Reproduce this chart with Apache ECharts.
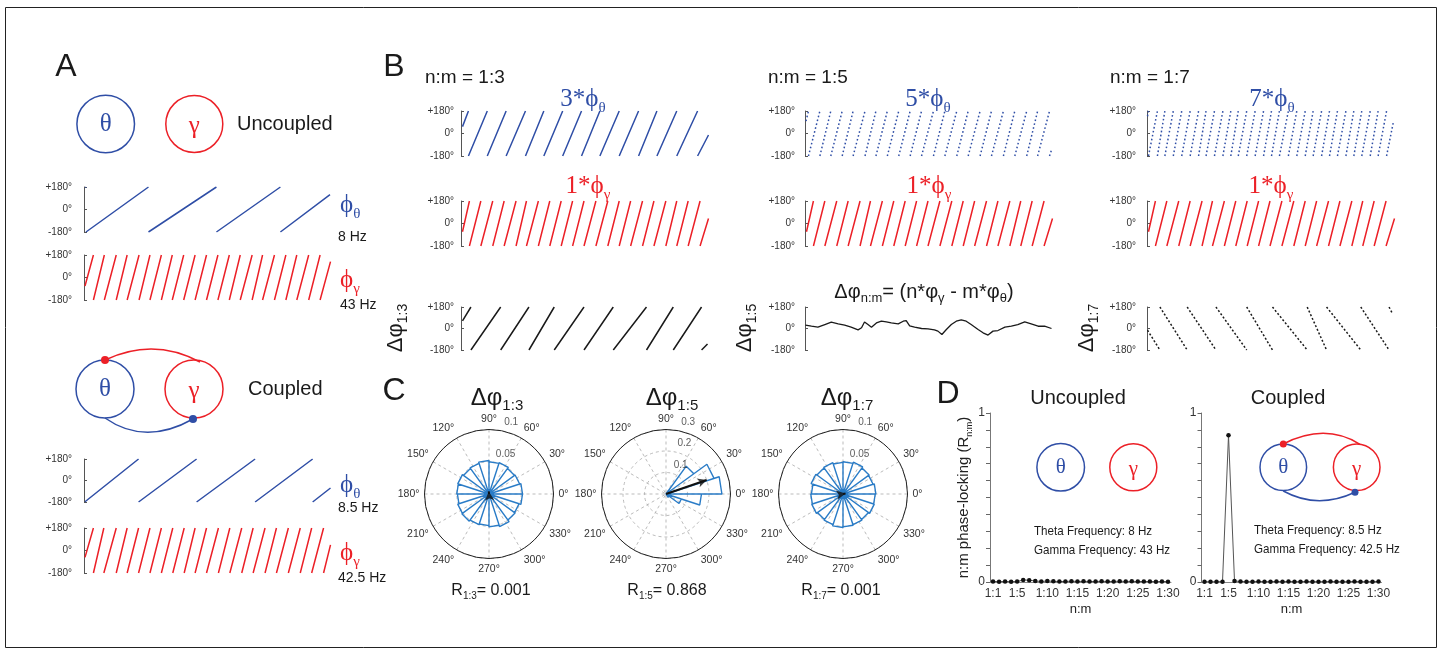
<!DOCTYPE html>
<html>
<head>
<meta charset="utf-8">
<script src="https://cdn.jsdelivr.net/npm/echarts@6/dist/echarts.min.js"></script>
<style>
  html, body { margin: 0; padding: 0; background: #fff; }
  #chart { width: 1443px; height: 656px; }
</style>
</head>
<body>
<div id="chart"></div>
<script>
// ---- data (time in ms, phase in degrees) ----
// phase traces: first and last sample, then the times where the phase wraps
const thetaUncEnds = [[3, 175], [496, 119]];
const thetaUncWraps = [4, 130, 267, 396];
const gammaUncEnds = [[2, -68], [497, 127]];
const gammaUncWraps = [19, 41, 65, 87, 111, 133, 156, 178, 201, 224, 247, 270, 293, 315, 339, 360, 384, 407, 429, 453, 476];
const thetaCplEnds = [[2, -178], [497, -63]];
const thetaCplWraps = [110, 227, 345, 461];
const gammaCplEnds = [[2, -55], [497, 45]];
const gammaCplWraps = [19, 40, 65, 87, 110, 133, 156, 179, 202, 224, 247, 271, 294, 318, 341, 365, 388, 412, 436, 459, 483];

const theta3Ends = [[3, 55], [499, -12]];
const theta3Wraps = [15, 53, 91, 130, 167, 205, 243, 280, 319, 358, 395, 435, 477];
const theta5Ends = [[2, 99], [497, -131]];
const theta5Wraps = [7, 30, 52, 75, 97, 121, 143, 166, 189, 212, 235, 259, 282, 306, 329, 353, 376, 400, 423, 447, 469, 493];
const theta7Ends = [[1, 138], [497, 97]];
const theta7Wraps = [3, 21, 36, 53, 70, 87, 104, 119, 136, 153, 169, 184, 201, 218, 235, 251, 267, 285, 302, 319, 335, 352, 368, 384, 401, 417, 433, 450, 466, 483];
const gammaBEnds = [[3, -66], [499, 40]];
const gammaBWraps = [17, 40, 64, 87, 111, 132, 156, 179, 202, 225, 248, 272, 296, 319, 342, 366, 389, 413, 435, 458, 482];

const dphi13Ends = [[3, 64], [497, -130]];
const dphi13Wraps = [20, 80, 137, 188, 248, 307, 374, 428, 485];
const dphi17Ends = [[1, -14], [495, 124]];
const dphi17Wraps = [26, 81, 139, 201, 253, 323, 362, 431, 488];
const dphi15 = [
  [1, 28], [13, 19], [26, 11], [40, 33], [53, 53], [67, 39], [80, 28], [93, 11], [107, -11], [114, 6],
  [120, 55], [127, 33], [134, 11], [144, 47], [154, 61], [164, 55], [174, 47], [188, 39], [198, 61], [204, 66],
  [211, 22], [221, 11], [235, 0], [248, -3], [261, -11], [268, -22], [276, -50], [285, -8], [295, 33], [305, 61],
  [315, 72], [325, 61], [335, 33], [349, -8], [359, -36], [369, -55], [379, -22], [389, -17], [403, 11], [416, 19],
  [429, 33], [443, 55], [456, 39], [470, 19], [483, 19], [497, 0]
];
const phaseTicks = [-180, 0, 180];

// panel C: rose histograms, 20 bins of 18 deg starting at 0 deg
const rose13 = [0.052, 0.050, 0.049, 0.051, 0.050, 0.052, 0.050, 0.049, 0.051, 0.050, 0.049, 0.051, 0.052, 0.050, 0.049, 0.051, 0.053, 0.050, 0.049, 0.052];
const rose15 = [0.26, 0.235, 0.16, 0.02, 0.006, 0.004, 0.003, 0.003, 0.002, 0.002, 0.002, 0.002, 0.003, 0.003, 0.004, 0.005, 0.008, 0.02, 0.075, 0.165];
const rose17 = [0.051, 0.049, 0.050, 0.052, 0.050, 0.049, 0.051, 0.050, 0.052, 0.049, 0.050, 0.051, 0.049, 0.050, 0.052, 0.051, 0.050, 0.049, 0.051, 0.050];
const meanVec13 = [0.004, 95];
const meanVec15 = [0.2, 19];
const meanVec17 = [0.004, 10];
const Rvalues = ['0.001', '0.868', '0.001'];

// panel D
const nmCategories = ['1:1', '1:2', '1:3', '1:4', '1:5', '1:6', '1:7', '1:8', '1:9', '1:10',
  '1:11', '1:12', '1:13', '1:14', '1:15', '1:16', '1:17', '1:18', '1:19', '1:20',
  '1:21', '1:22', '1:23', '1:24', '1:25', '1:26', '1:27', '1:28', '1:29', '1:30'];
const nmTickLabels = ['1:1', '1:5', '1:10', '1:15', '1:20', '1:25', '1:30'];
const rUncoupled = [0.003, 0.002, 0.003, 0.002, 0.003, 0.012, 0.011, 0.006, 0.003, 0.006,
  0.004, 0.003, 0.003, 0.005, 0.003, 0.004, 0.003, 0.003, 0.004, 0.003,
  0.003, 0.005, 0.003, 0.004, 0.003, 0.003, 0.003, 0.002, 0.003, 0.002];
const rCoupled = [0.002, 0.001, 0.002, 0.002, 0.868, 0.006, 0.003, 0.002, 0.002, 0.003,
  0.002, 0.002, 0.003, 0.002, 0.003, 0.002, 0.002, 0.003, 0.002, 0.002,
  0.002, 0.003, 0.002, 0.002, 0.002, 0.003, 0.002, 0.002, 0.002, 0.003];

// ---- styling ----
const BLUE = '#2f4ea6', RED = '#ec2027', ROSE = '#2a7cc7', INK = '#1a1a1a';
const SANS = '"Liberation Sans", Arial, sans-serif';
const SERIF = '"Liberation Serif", "DejaVu Serif", serif';

// ramps between wraps; dir 1 rises to +180, dir -1 falls to -180
function sawtooth(ends, wraps, dir) {
  const edge = dir > 0 ? 180 : -180;
  const pts = [ends[0]];
  wraps.forEach(w => pts.push([w, edge], [w, '-'], [w, -edge]));
  pts.push(ends[1]);
  return pts;
}

function roseOutline(vals) {
  const pts = [];
  vals.forEach((r, i) => {
    pts.push([0, i * 18], [r, i * 18], [r, i * 18 + 18], [0, i * 18 + 18]);
  });
  return pts;
}

const DOTS = [1.6, 2.4];
const traces = [
  { left: 84, top: 187, height: 45, offset: 9, data: sawtooth(thetaUncEnds, thetaUncWraps, 1), color: BLUE },
  { left: 84, top: 255, height: 45, offset: 9, data: sawtooth(gammaUncEnds, gammaUncWraps, 1), color: RED },
  { left: 84, top: 459, height: 43, offset: 9, data: sawtooth(thetaCplEnds, thetaCplWraps, 1), color: BLUE },
  { left: 84, top: 528, height: 45, offset: 9, data: sawtooth(gammaCplEnds, gammaCplWraps, 1), color: RED },
  { left: 461, top: 111, height: 45, offset: 4, data: sawtooth(theta3Ends, theta3Wraps, 1), color: BLUE },
  { left: 461, top: 201, height: 45, offset: 4, data: sawtooth(gammaBEnds, gammaBWraps, 1), color: RED },
  { left: 461, top: 307, height: 43, offset: 4, data: sawtooth(dphi13Ends, dphi13Wraps, 1), color: INK },
  { left: 805, top: 111, height: 45, offset: 7, data: sawtooth(theta5Ends, theta5Wraps, 1), color: BLUE, dash: DOTS },
  { left: 805, top: 201, height: 45, offset: 7, data: sawtooth(gammaBEnds, gammaBWraps, 1), color: RED },
  { left: 805, top: 307, height: 43, offset: 7, data: dphi15, color: INK, width: 1.3 },
  { left: 1147, top: 111, height: 45, offset: 8, data: sawtooth(theta7Ends, theta7Wraps, 1), color: BLUE, dash: DOTS },
  { left: 1147, top: 201, height: 45, offset: 8, data: sawtooth(gammaBEnds, gammaBWraps, 1), color: RED },
  { left: 1147, top: 307, height: 43, offset: 8, data: sawtooth(dphi17Ends, dphi17Wraps, -1), color: INK, dash: [2, 2] }
];

const grids = [], xAxes = [], yAxes = [], series = [];

traces.forEach((t, i) => {
  grids.push({ left: t.left, top: t.top, width: 248, height: t.height });
  xAxes.push({ gridIndex: i, type: 'value', min: 0, max: 500, show: false });
  yAxes.push({
    gridIndex: i, type: 'value', min: -180, max: 180, interval: 180, offset: t.offset,
    axisLine: { show: true, lineStyle: { color: '#555', width: 1 } },
    axisTick: { show: true, inside: true, length: 3, lineStyle: { color: '#555' } },
    axisLabel: {
      margin: 3, fontSize: 10, color: '#333', fontFamily: SANS,
      formatter: v => phaseTicks.includes(v) ? (v > 0 ? '+' + v + '°' : v + '°') : ''
    },
    splitLine: { show: false }
  });
  series.push({
    type: 'line', xAxisIndex: i, yAxisIndex: i, data: t.data, showSymbol: false, symbol: 'none',
    connectNulls: false, silent: true,
    lineStyle: { color: t.color, width: t.width || 1.5, type: t.dash || 'solid' }
  });
});

// panel D grids
const dGrids = [
  { left: 990, top: 413, width: 181, height: 169, data: rUncoupled, name: true },
  { left: 1201.5, top: 413, width: 180, height: 169, data: rCoupled, name: false }
];
dGrids.forEach(g => {
  const i = grids.length;
  grids.push({ left: g.left, top: g.top, width: g.width, height: g.height });
  xAxes.push({
    gridIndex: i, type: 'category', data: nmCategories, boundaryGap: true,
    axisLine: { show: true, lineStyle: { color: '#888' } },
    axisTick: { show: false },
    axisLabel: {
      interval: (idx, v) => nmTickLabels.includes(v),
      fontSize: 12, color: '#333', fontFamily: SANS, margin: 6
    },
    name: 'n:m', nameLocation: 'middle', nameGap: 21,
    nameTextStyle: { fontSize: 13, color: '#222', fontFamily: SANS }
  });
  yAxes.push({
    gridIndex: i, type: 'value', min: 0, max: 1, interval: 0.1,
    axisLine: { show: true, lineStyle: { color: '#777' } },
    axisTick: { show: true, length: 4, lineStyle: { color: '#666', width: 1 } },
    axisLabel: {
      fontSize: 12, color: '#333', fontFamily: SANS, margin: 5,
      formatter: v => (v === 0 || v === 1) ? String(v) : ''
    },
    splitLine: { show: false },
    name: g.name ? '{b|n:m phase-locking (R}{s|n:m}{b|)}' : '',
    nameLocation: 'middle', nameRotate: 90, nameGap: 14,
    nameTextStyle: {
      rich: {
        b: { fontSize: 15, fontFamily: SANS, color: '#222', lineHeight: 16, verticalAlign: 'top' },
        s: { fontSize: 9, fontFamily: SANS, color: '#222', lineHeight: 9, verticalAlign: 'top', padding: [9, 0, 0, 0] }
      }
    }
  });
  series.push({
    type: 'line', xAxisIndex: i, yAxisIndex: i, data: g.data, symbol: 'circle', symbolSize: 4.5,
    showSymbol: true, showAllSymbol: true,
    itemStyle: { color: '#111' }, lineStyle: { color: '#555', width: 1 }, silent: true
  });
});

// panel C polar roses
const roses = [
  { center: [489, 494], max: 0.1, step: 0.05, vals: rose13, vec: meanVec13 },
  { center: [666, 494], max: 0.3, step: 0.1, vals: rose15, vec: meanVec15 },
  { center: [843, 494], max: 0.1, step: 0.05, vals: rose17, vec: meanVec17 }
];
const polars = [], angleAxes = [], radiusAxes = [];
roses.forEach((p, i) => {
  polars.push({ center: p.center, radius: 64.5 });
  angleAxes.push({
    polarIndex: i, type: 'value', min: 0, max: 360, interval: 30, startAngle: 0, clockwise: false, z: 3,
    axisLine: { lineStyle: { color: '#222', width: 1 } },
    axisTick: { show: false },
    axisLabel: { margin: 5, fontSize: 10.5, color: '#333', fontFamily: SANS, formatter: v => v === 360 ? '' : v + '°' },
    splitLine: { show: true, lineStyle: { color: '#aaa', width: 0.8, type: [3, 3] } }
  });
  radiusAxes.push({
    polarIndex: i, type: 'value', min: 0, max: p.max, interval: p.step,
    axisLine: { show: false }, axisTick: { show: false }, axisLabel: { show: false },
    splitLine: { show: true, lineStyle: { color: '#aaa', width: 0.8, type: [3, 3] } }
  });
  series.push({
    type: 'line', coordinateSystem: 'polar', polarIndex: i, data: roseOutline(p.vals),
    showSymbol: false, symbol: 'none', silent: true, z: 4,
    lineStyle: { color: ROSE, width: 1.4 }
  });
  // radius tick labels
  const ringVals = [];
  for (let k = 1; k * p.step <= p.max + 1e-9; k++) ringVals.push([+(k * p.step).toFixed(2), 80]);
  series.push({
    type: 'scatter', coordinateSystem: 'polar', polarIndex: i, data: ringVals, symbolSize: 0.1,
    itemStyle: { color: 'rgba(0,0,0,0)' }, silent: true, z: 5,
    label: {
      show: true, position: 'inside', offset: [11, -8], fontSize: 10, color: '#333', fontFamily: SANS,
      formatter: q => String(q.value[0])
    }
  });
  // mean resultant vector
  series.push({
    type: 'line', coordinateSystem: 'polar', polarIndex: i, data: [[0, p.vec[1]], p.vec],
    showSymbol: false, symbol: 'none', silent: true, z: 6, lineStyle: { color: '#111', width: 2 }
  });
  series.push({
    type: 'scatter', coordinateSystem: 'polar', polarIndex: i, data: [p.vec], symbol: 'arrow',
    symbolSize: [7, 9], symbolRotate: p.vec[1] - 90, itemStyle: { color: '#111' }, silent: true, z: 7
  });
});

// ---- annotations ----
function txt(x, y, text, o = {}) {
  return {
    type: 'text', x, y, rotation: o.rotation || 0, scaleX: o.scaleX || 1, silent: true, z: 10,
    style: {
      text, fill: o.fill || INK, fontSize: o.size || 14, fontFamily: o.family || SANS,
      fontStyle: o.fontStyle || 'normal',
      textAlign: o.align || 'left', textVerticalAlign: 'middle', rich: o.rich
    }
  };
}
function subRich(fill, big, sub, family) {
  return {
    b: { fill, fontSize: big, fontFamily: family, lineHeight: big, verticalAlign: 'top' },
    s: { fill, fontSize: sub, fontFamily: family, lineHeight: sub, verticalAlign: 'top',
         padding: [Math.round(big * 1.02 - sub * 0.8), 0, 0, 0] }
  };
}
function circ(cx, cy, r, stroke) {
  return { type: 'circle', silent: true, shape: { cx, cy, r }, style: { fill: 'none', stroke, lineWidth: 1.5 } };
}
function curve(x1, y1, cpx1, cpy1, x2, y2, stroke) {
  return { type: 'bezierCurve', silent: true, shape: { x1, y1, cpx1, cpy1, x2, y2 }, style: { fill: 'none', stroke, lineWidth: 1.5 } };
}
function dot(cx, cy, r, fill) {
  return { type: 'circle', silent: true, z: 11, shape: { cx, cy, r }, style: { fill } };
}

const blueSub = subRich(BLUE, 25, 15, SERIF);
const redSub = subRich(RED, 25, 15, SERIF);
const blackSub = subRich(INK, 22, 14, SANS);
const titleSub = subRich(INK, 24, 15, SANS);
const rSub = subRich(INK, 16, 10, SANS);
const narrow = { size: 13.5, scaleX: 0.86 };

const elements = [
  { type: 'rect', silent: true, shape: { x: 5.5, y: 7.5, width: 1431, height: 640 }, style: { fill: 'none', stroke: '#222', lineWidth: 1 } },
  txt(66, 67, 'A', { size: 32, align: 'center' }),
  txt(394, 67, 'B', { size: 32, align: 'center' }),
  txt(394, 391, 'C', { size: 32, align: 'center' }),
  txt(948, 394, 'D', { size: 32, align: 'center' }),

  // panel A diagrams
  circ(105.7, 124, 28.8, BLUE), circ(194.3, 124, 28.5, RED),
  txt(105.7, 124, 'θ', { fill: BLUE, size: 25, family: SERIF, align: 'center' }),
  txt(194.3, 126, 'γ', { fill: RED, size: 25, family: SERIF, align: 'center' }),
  txt(237, 124, 'Uncoupled', { size: 20 }),
  curve(105, 360, 153.5, 337, 200, 362, RED),
  curve(105, 418, 145, 446, 193, 419, BLUE),
  circ(105, 389, 29, BLUE), circ(194, 389, 29, RED),
  dot(105, 360, 4, RED), dot(193, 419, 4, BLUE),
  txt(105, 389, 'θ', { fill: BLUE, size: 25, family: SERIF, align: 'center' }),
  txt(194, 391, 'γ', { fill: RED, size: 25, family: SERIF, align: 'center' }),
  txt(248, 389, 'Coupled', { size: 20 }),

  txt(340, 205, '{b|ϕ}{s|θ}', { rich: blueSub }),
  txt(338, 237, '8 Hz', { size: 14 }),
  txt(340, 280, '{b|ϕ}{s|γ}', { rich: redSub }),
  txt(340, 305, '43 Hz', { size: 14 }),
  txt(340, 485, '{b|ϕ}{s|θ}', { rich: blueSub }),
  txt(338, 508, '8.5 Hz', { size: 14 }),
  txt(340, 553, '{b|ϕ}{s|γ}', { rich: redSub }),
  txt(338, 578, '42.5 Hz', { size: 14 }),

  // panel B labels
  txt(425, 78, 'n:m = 1:3', { size: 19 }),
  txt(768, 78, 'n:m = 1:5', { size: 19 }),
  txt(1110, 78, 'n:m = 1:7', { size: 19 }),
  txt(583, 99, '{b|3*ϕ}{s|θ}', { rich: blueSub, align: 'center' }),
  txt(928, 99, '{b|5*ϕ}{s|θ}', { rich: blueSub, align: 'center' }),
  txt(1272, 99, '{b|7*ϕ}{s|θ}', { rich: blueSub, align: 'center' }),
  txt(588, 186, '{b|1*ϕ}{s|γ}', { rich: redSub, align: 'center' }),
  txt(929, 186, '{b|1*ϕ}{s|γ}', { rich: redSub, align: 'center' }),
  txt(1271, 186, '{b|1*ϕ}{s|γ}', { rich: redSub, align: 'center' }),
  txt(396, 328, '{b|Δφ}{s|1:3}', { rich: blackSub, align: 'center', rotation: Math.PI / 2 }),
  txt(745, 328, '{b|Δφ}{s|1:5}', { rich: blackSub, align: 'center', rotation: Math.PI / 2 }),
  txt(1087, 328, '{b|Δφ}{s|1:7}', { rich: blackSub, align: 'center', rotation: Math.PI / 2 }),
  txt(924, 292, '{b|Δφ}{s|n:m}{b|= (n*φ}{s|γ}{b| - m*φ}{s|θ}{b|)}', { rich: subRich(INK, 20, 13, SANS), align: 'center' }),

  // panel C labels
  txt(497, 398, '{b|Δφ}{s|1:3}', { rich: titleSub, align: 'center' }),
  txt(672, 398, '{b|Δφ}{s|1:5}', { rich: titleSub, align: 'center' }),
  txt(847, 398, '{b|Δφ}{s|1:7}', { rich: titleSub, align: 'center' }),
  txt(491, 591, '{b|R}{s|1:3}{b|= ' + Rvalues[0] + '}', { rich: rSub, align: 'center' }),
  txt(667, 591, '{b|R}{s|1:5}{b|= ' + Rvalues[1] + '}', { rich: rSub, align: 'center' }),
  txt(841, 591, '{b|R}{s|1:7}{b|= ' + Rvalues[2] + '}', { rich: rSub, align: 'center' }),

  // panel D labels and diagrams
  txt(1078, 398, 'Uncoupled', { size: 20, align: 'center' }),
  txt(1288, 398, 'Coupled', { size: 20, align: 'center' }),
  circ(1060.7, 467.3, 23.8, BLUE), circ(1133.3, 467.3, 23.5, RED),
  txt(1060.7, 467.3, 'θ', { fill: BLUE, size: 21, family: SERIF, align: 'center' }),
  txt(1133.3, 469, 'γ', { fill: RED, size: 21, family: SERIF, align: 'center' }),
  txt(1034, 531, 'Theta Frequency: 8 Hz', narrow),
  txt(1034, 550, 'Gamma Frequency: 43 Hz', narrow),
  curve(1283.3, 444, 1325, 422.5, 1360, 444.3, RED),
  curve(1283.3, 491, 1317.5, 509.8, 1355, 492.3, BLUE),
  circ(1283.3, 467.3, 23.3, BLUE), circ(1356.7, 467.3, 23.3, RED),
  dot(1283.3, 444, 3.5, RED), dot(1355, 492.3, 3.5, BLUE),
  txt(1283.3, 467.3, 'θ', { fill: BLUE, size: 21, family: SERIF, align: 'center' }),
  txt(1356.7, 469, 'γ', { fill: RED, size: 21, family: SERIF, align: 'center' }),
  txt(1254, 530, 'Theta Frequency: 8.5 Hz', narrow),
  txt(1254, 549, 'Gamma Frequency: 42.5 Hz', narrow)
];

const chart = echarts.init(document.getElementById('chart'));
chart.setOption({
  animation: false,
  backgroundColor: '#fff',
  grid: grids,
  xAxis: xAxes,
  yAxis: yAxes,
  polar: polars,
  angleAxis: angleAxes,
  radiusAxis: radiusAxes,
  series: series,
  graphic: elements
});
</script>
</body>
</html>
